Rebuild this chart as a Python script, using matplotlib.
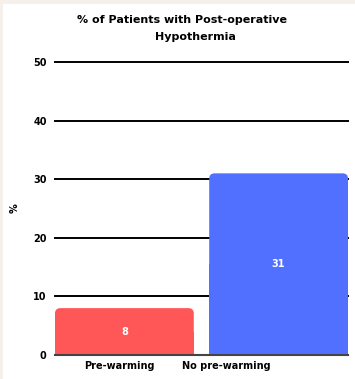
import matplotlib.pyplot as plt
from matplotlib.patches import FancyBboxPatch, Rectangle

categories = ["Pre-warming", "No pre-warming"]
values = [8, 31]
colors = ["#ff5757", "#5170ff"]
yticks = [0, 10, 20, 30, 40, 50]

plt.rcParams['font.family'] = ['DejaVu Sans']

fig = plt.figure(figsize=(3.55, 3.79), dpi=100, facecolor="white")

# beige frame along the left and top edges
frame = "#f5f0ea"
fig.patches.append(Rectangle((0, 0), 3 / 355, 1, transform=fig.transFigure,
                             facecolor=frame, edgecolor="none"))
fig.patches.append(Rectangle((0, 1 - 4 / 379), 1, 4 / 379, transform=fig.transFigure,
                             facecolor=frame, edgecolor="none"))

ax = fig.add_axes([55 / 355, (379 - 355) / 379, 293 / 355, 293 / 379])
ax.set_facecolor("white")

x = list(range(len(categories)))
width = 0.9
bars = ax.bar(x, values, width=width, color="none", edgecolor="none")

# rounded tops, square bottoms
rx = 0.035
aspect = 26
for b, c, v in zip(bars, colors, values):
    bx = b.get_x()
    ax.add_patch(FancyBboxPatch((bx, 0), width, v,
                                boxstyle=f"round,pad=0,rounding_size={rx}",
                                mutation_aspect=aspect, facecolor=c,
                                edgecolor="none", zorder=3))
    ax.add_patch(Rectangle((bx, 0), width, v / 2, facecolor=c,
                           edgecolor="none", zorder=3))
    ax.text(bx + width / 2, v / 2, str(v), ha="center", va="center",
            color="white", fontsize=7, fontweight="bold", zorder=4)

for t in yticks[1:]:
    ax.axhline(t, color="black", lw=1.4, zorder=1, clip_on=False)

ax.set_xlim(-0.45, 1.45)
ax.set_ylim(0, 50)
ax.set_yticks(yticks)
ax.set_yticklabels([str(t) for t in yticks], fontsize=7, fontweight="bold")
ax.set_xticks([-0.03, 0.66])
ax.set_xticklabels(categories, fontsize=7, fontweight="bold")
ax.tick_params(axis="both", length=0, pad=6)
ax.tick_params(axis="x", pad=4)

for s in ["top", "right", "left"]:
    ax.spines[s].set_visible(False)
ax.spines["bottom"].set_color("#444444")
ax.spines["bottom"].set_linewidth(1.5)
ax.spines["bottom"].set_zorder(5)

ax.set_ylabel("%", fontsize=7, fontweight="bold", labelpad=10)

fig.text(182 / 355, 1 - 20 / 379, "% of Patients with Post-operative",
         ha="center", va="center", fontsize=8, fontweight="bold")
fig.text(195 / 355, 1 - 37 / 379, "Hypothermia",
         ha="center", va="center", fontsize=8, fontweight="bold")

fig.savefig("out.png", dpi=100, facecolor=fig.get_facecolor())
